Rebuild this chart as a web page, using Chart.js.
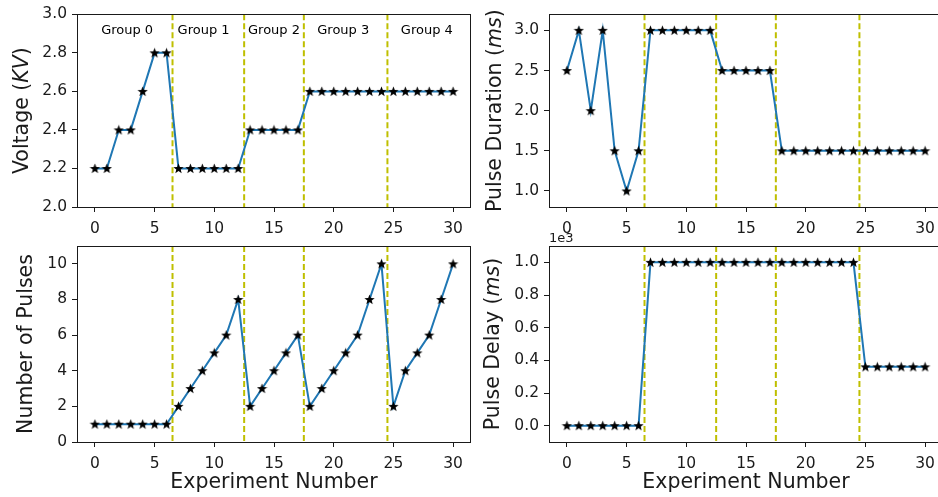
<!DOCTYPE html>
<html lang="en">
<head>
  <meta charset="UTF-8">
  <title>Experiment Parameters</title>
  <script src="https://cdn.jsdelivr.net/npm/chart.js"></script>
  <style>
    html, body { margin: 0; padding: 0; background: #fff; overflow: hidden; }
    body { width: 938px; height: 497px; position: relative; }
    .panel { position: absolute; }
    .panel canvas { display: block; }
  </style>
</head>
<body>
  <div class="panel" style="left:0;top:0"><canvas id="voltageChart" width="480" height="240"></canvas></div>
  <div class="panel" style="left:475px;top:0"><canvas id="durationChart" width="475" height="240"></canvas></div>
  <div class="panel" style="left:0;top:228px"><canvas id="pulsesChart" width="480" height="269"></canvas></div>
  <div class="panel" style="left:475px;top:228px"><canvas id="delayChart" width="475" height="269"></canvas></div>

  <script>
    const experimentNumbers = [0, 1, 2, 3, 4, 5, 6, 7, 8, 9, 10, 11, 12, 13, 14, 15, 16, 17, 18, 19, 20, 21, 22, 23, 24, 25, 26, 27, 28, 29, 30];
    const voltage = [2.2, 2.2, 2.4, 2.4, 2.6, 2.8, 2.8, 2.2, 2.2, 2.2, 2.2, 2.2, 2.2, 2.4, 2.4, 2.4, 2.4, 2.4,
                     2.6, 2.6, 2.6, 2.6, 2.6, 2.6, 2.6, 2.6, 2.6, 2.6, 2.6, 2.6, 2.6];
    const pulseDuration = [2.5, 3, 2, 3, 1.5, 1, 1.5, 3, 3, 3, 3, 3, 3, 2.5, 2.5, 2.5, 2.5, 2.5,
                           1.5, 1.5, 1.5, 1.5, 1.5, 1.5, 1.5, 1.5, 1.5, 1.5, 1.5, 1.5, 1.5];
    const pulseCount = [1, 1, 1, 1, 1, 1, 1, 2, 3, 4, 5, 6, 8, 2, 3, 4, 5, 6, 2, 3, 4, 5, 6, 8, 10, 2, 4, 5, 6, 8, 10];
    const pulseDelay = [0, 0, 0, 0, 0, 0, 0, 1000, 1000, 1000, 1000, 1000, 1000, 1000, 1000, 1000, 1000, 1000,
                        1000, 1000, 1000, 1000, 1000, 1000, 1000, 360, 360, 360, 360, 360, 360];

    const groupBounds = [6.5, 12.5, 17.5, 24.5];
    const groupNames = ['Group 0', 'Group 1', 'Group 2', 'Group 3', 'Group 4'];
    const groupNameX = [2.7, 9.1, 15.0, 20.8, 27.8];
    const groupNameY = 2.915;

    const xTicks = [0, 5, 10, 15, 20, 25, 30];
    const voltageTicks = [2.0, 2.2, 2.4, 2.6, 2.8, 3.0];
    const durationTicks = [1.0, 1.5, 2.0, 2.5, 3.0];
    const pulseTicks = [0, 2, 4, 6, 8, 10];
    const delayTicks = [0, 200, 400, 600, 800, 1000];

    const FONT = "'DejaVu Sans', sans-serif";
    const INK = '#1a1a1a';

    // filled five-point star, like matplotlib's '*' marker
    function starMarker() {
      const c = document.createElement('canvas');
      c.width = 11; c.height = 11;
      const g = c.getContext('2d');
      g.beginPath();
      for (let k = 0; k < 10; k++) {
        const r = k % 2 ? 2.3 : 5.4;
        const a = -Math.PI / 2 + k * Math.PI / 5;
        const px = 5.5 + r * Math.cos(a), py = 5.8 + r * Math.sin(a);
        k ? g.lineTo(px, py) : g.moveTo(px, py);
      }
      g.closePath();
      g.fillStyle = '#000';
      g.fill();
      return c;
    }
    const star = starMarker();

    function makePanel(id, values, cfg) {
      const canvas = document.getElementById(id);
      const W = canvas.width, H = canvas.height;
      const b = cfg.box;

      const decor = {
        id: 'decor',
        beforeDatasetsDraw(chart) {
          const { ctx, chartArea: a, scales: { x } } = chart;
          ctx.save();
          ctx.strokeStyle = '#bfbf00';
          ctx.lineWidth = 2;
          ctx.setLineDash([6, 3]);
          groupBounds.forEach(v => {
            const px = x.getPixelForValue(v);
            ctx.beginPath(); ctx.moveTo(px, a.top); ctx.lineTo(px, a.bottom); ctx.stroke();
          });
          ctx.restore();
        },
        afterDatasetsDraw(chart) {
          const { ctx, chartArea: a, scales: { x, y } } = chart;
          ctx.save();
          ctx.strokeStyle = INK;
          ctx.lineWidth = 1;
          ctx.strokeRect(Math.round(a.left) + 0.5, Math.round(a.top) + 0.5,
                         Math.round(a.right - a.left) - 1, Math.round(a.bottom - a.top));
          if (cfg.groups) {
            ctx.fillStyle = '#000';
            ctx.font = '13px ' + FONT;
            ctx.textAlign = 'center';
            ctx.textBaseline = 'middle';
            groupNames.forEach((n, i) => ctx.fillText(n, x.getPixelForValue(groupNameX[i]), y.getPixelForValue(groupNameY)));
          }
          // rotated y title with italic units
          ctx.translate(a.left - cfg.titleGap, (a.top + a.bottom) / 2);
          ctx.rotate(-Math.PI / 2);
          ctx.fillStyle = INK;
          ctx.textBaseline = 'middle';
          ctx.textAlign = 'left';
          const fonts = cfg.title.map(p => (p[1] ? 'italic ' : '') + '20.5px ' + FONT);
          let total = 0;
          cfg.title.forEach((p, i) => { ctx.font = fonts[i]; total += ctx.measureText(p[0]).width; });
          let cx = -total / 2;
          cfg.title.forEach((p, i) => { ctx.font = fonts[i]; ctx.fillText(p[0], cx, 0); cx += ctx.measureText(p[0]).width; });
          ctx.restore();
          if (cfg.offsetText) {
            ctx.save();
            ctx.fillStyle = INK;
            ctx.font = '13px ' + FONT;
            ctx.textBaseline = 'alphabetic';
            ctx.fillText(cfg.offsetText, a.left, a.top - 4);
            ctx.restore();
          }
        }
      };

      return new Chart(canvas, {
        type: 'line',
        data: {
          labels: experimentNumbers,
          datasets: [{
            data: experimentNumbers.map((e, i) => ({ x: e, y: values[i] })),
            borderColor: '#1f77b4',
            borderWidth: 2,
            tension: 0,
            pointStyle: star,
            pointRadius: 5,
            pointHoverRadius: 5
          }]
        },
        options: {
          responsive: false,
          animation: false,
          events: [],
          layout: { padding: { left: 0, top: b.top, right: W - b.right, bottom: 0 } },
          plugins: { legend: { display: false }, tooltip: { enabled: false } },
          scales: {
            x: {
              type: 'linear',
              min: -1.5, max: 31.5,
              afterBuildTicks: s => { s.ticks = xTicks.map(v => ({ value: v })); },
              afterFit: s => { s.height = H - b.bottom; },
              grid: { drawOnChartArea: false, drawTicks: true, tickLength: 5, color: INK },
              border: { display: false },
              ticks: { autoSkip: false, maxRotation: 0, padding: 8, color: INK, font: { family: FONT, size: 15.5 } },
              title: {
                display: !!cfg.xTitle, text: cfg.xTitle || '', color: INK,
                font: { family: FONT, size: 20.5 }, padding: { top: 0, bottom: 2 }
              }
            },
            y: {
              min: cfg.yMin, max: cfg.yMax,
              afterBuildTicks: s => { s.ticks = cfg.yTicks.map(v => ({ value: v })); },
              afterFit: s => { s.width = b.left; },
              grid: { drawOnChartArea: false, drawTicks: true, tickLength: 5, color: INK },
              border: { display: false },
              ticks: { padding: 5, color: INK, font: { family: FONT, size: 15.5 }, callback: cfg.fmt }
            }
          }
        },
        plugins: [decor]
      });
    }

    makePanel('voltageChart', voltage, {
      box: { left: 77, top: 12, right: 471, bottom: 207 },
      yMin: 2.0, yMax: 3.0, yTicks: voltageTicks, fmt: v => v.toFixed(1),
      title: [['Voltage (', 0], ['KV', 1], [')', 0]], titleGap: 54, groups: true
    });
    makePanel('durationChart', pulseDuration, {
      box: { left: 74, top: 12, right: 468, bottom: 207 },
      yMin: 0.8, yMax: 3.2, yTicks: durationTicks, fmt: v => v.toFixed(1),
      title: [['Pulse Duration (', 0], ['ms', 1], [')', 0]], titleGap: 53
    });
    makePanel('pulsesChart', pulseCount, {
      box: { left: 77, top: 18, right: 471, bottom: 214 },
      yMin: 0, yMax: 11, yTicks: pulseTicks, fmt: v => String(v),
      title: [['Number of Pulses', 0]], titleGap: 50, xTitle: 'Experiment Number'
    });
    makePanel('delayChart', pulseDelay, {
      box: { left: 74, top: 18, right: 468, bottom: 214 },
      yMin: -100, yMax: 1100, yTicks: delayTicks, fmt: v => (v / 1000).toFixed(1),
      title: [['Pulse Delay (', 0], ['ms', 1], [')', 0]], titleGap: 55, xTitle: 'Experiment Number',
      offsetText: '1e3'
    });
  </script>
</body>
</html>
